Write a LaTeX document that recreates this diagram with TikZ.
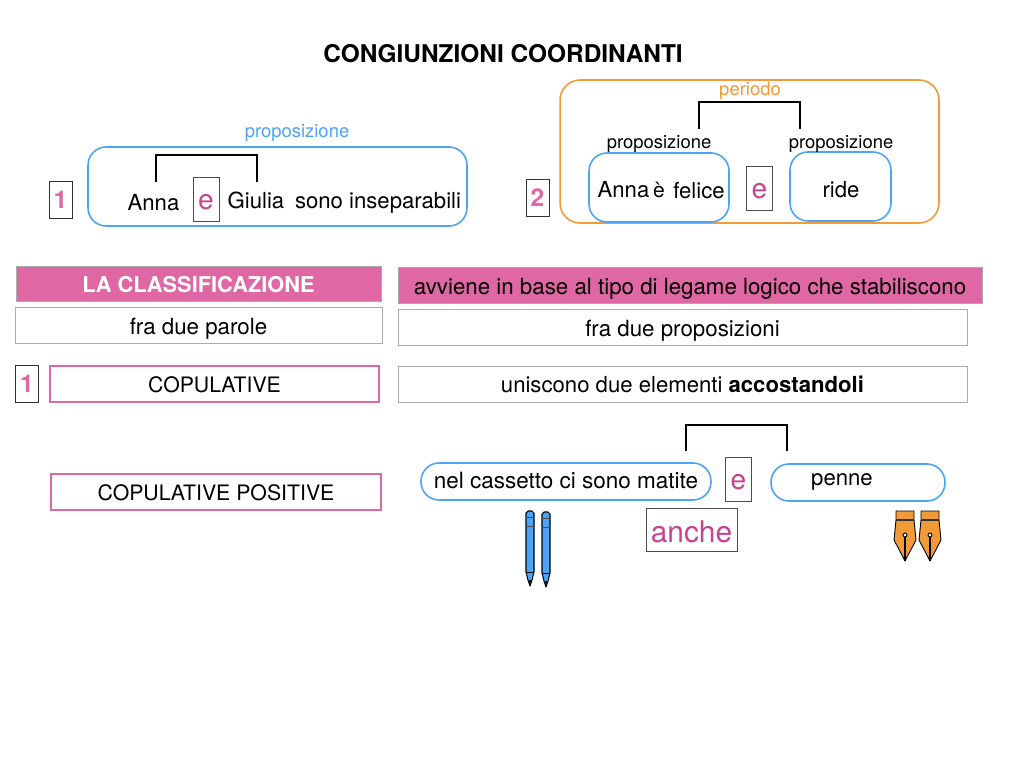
\documentclass[tikz,border=0pt]{standalone}
\usepackage{fontspec}
\setmainfont{TeX Gyre Heros}
\definecolor{bluprop}{HTML}{4DA3F5}
\definecolor{orperiodo}{HTML}{F19A38}
\definecolor{rosa}{HTML}{DF67A3}
\definecolor{magenta2}{HTML}{C8438F}
\definecolor{grigio}{HTML}{ABABAB}
\newcommand{\fs}[1]{\fontsize{#1}{#1}\selectfont}
\tikzset{
    txt/.style={inner sep=0pt,font=\fs{12.6}},
    fascia/.style={draw=grigio,inner sep=0pt,font=\fs{12.7},text height=11pt,text depth=0pt},
    rosabox/.style={draw=rosa,line width=0.9pt,inner sep=0pt,font=\fs{12.1},text height=10pt,text depth=0pt},
    numbox/.style={draw=black!80,line width=0.5pt,fill=white,inner sep=0pt,text=rosa,font=\fs{14}\bfseries,minimum width=0.46cm,minimum height=0.74cm},
    ebox/.style={draw=black!70,line width=0.45pt,fill=white,inner sep=0pt,text=magenta2,font=\fs{16},text height=12.4pt,text depth=0pt,minimum width=0.52cm,minimum height=0.88cm},
    bluebox/.style={draw=bluprop,line width=0.9pt,rounded corners=0.36cm,inner sep=0pt},
    bracket/.style={draw=black,line width=1.1pt},
}
\begin{document}
\begin{tikzpicture}[x=0.02cm,y=-0.02cm]
    \def\pencilA{ (526,513) -- (528,511) -- (532,511) -- (534,513) -- (534,572) -- (532,580) -- (530,586) -- (528,580) -- (526,572) -- cycle};
    \def\nibA{ (896,511) -- (914,511) -- (914,520) -- (916,540) -- (905,561) -- (894,540) -- (896,520) -- cycle};
    \useasboundingbox (0,0) rectangle (1024,768);
    \fill[white] (0,0) rectangle (1024,768);
    \node[txt,font=\fs{13.9}\bfseries] (titolo) at (503,54) {CONGIUNZIONI COORDINANTI};

    % prima frase
    \node[bluebox,minimum width=7.58cm,minimum height=1.58cm] (frase) at (277.5,186.5) {};
    \node[txt,text=bluprop,font=\fs{10.5}] (prop) at (297,133) {proposizione};
    \node[numbox] (num1) at (60.5,199.5) {1};
    \node[txt] (anna) at (153.5,203) {Anna};
    \node[ebox] (e1) at (206,199) {e};
    \node[txt] (giulia) at (256,200) {Giulia};
    \node[txt] (sono) at (378,202.5) {sono inseparabili};
    \coordinate (brA) at (156,182);
    \coordinate (brB) at (257,182);
    \draw[bracket] (brA) -- ++(0,-27) -| (brB);

    % seconda frase
    \node[draw=orperiodo,line width=0.9pt,rounded corners=0.4cm,inner sep=0pt,minimum width=7.58cm,minimum height=2.86cm] (periodo) at (749.5,151.5) {};
    \node[txt,text=orperiodo,font=\fs{10.5}] (perlab) at (750,91) {periodo};
    \node[numbox] (num2) at (537.5,197.5) {2};
    \node[bluebox,minimum width=2.8cm,minimum height=1.38cm] (prop1) at (659,187.5) {};
    \node[bluebox,minimum width=2.02cm,minimum height=1.38cm] (prop2) at (840.5,186.5) {};
    \node[txt,font=\fs{10.5}] (lab1) at (659,144) {proposizione};
    \node[txt,font=\fs{10.5}] (lab2) at (841,144) {proposizione};
    \node[txt] (anna2) at (623.5,190) {Anna};
    \node[txt,font=\fs{12}] (verbo) at (659,190) {è};
    \node[txt] (felice) at (699,191) {felice};
    \node[txt] (ride) at (841,190) {ride};
    \node[ebox] (e2) at (759.5,188) {e};
    \coordinate (brC) at (699,129);
    \coordinate (brD) at (800,129);
    \draw[bracket] (brC) -- ++(0,-27) -| (brD);

    % classificazione
    \node[fascia,fill=rosa,text=white,font=\fs{12.4}\bfseries,text height=10pt,minimum width=7.3cm,minimum height=0.7cm] (classif) at (198.5,283.5) {LA CLASSIFICAZIONE};
    \node[fascia,fill=rosa,minimum width=11.68cm,minimum height=0.72cm] (legame) at (690,285) {avviene in base al tipo di legame logico che stabiliscono};
    \node[fascia,minimum width=7.34cm,minimum height=0.72cm] (parole) at (198.5,325) {fra due parole};
    \node[fascia,minimum width=11.38cm,minimum height=0.72cm] (proposizioni) at (682.5,327) {fra due proposizioni};
    \node[numbox] (num3) at (27,384) {1};
    \node[rosabox,minimum width=6.58cm,minimum height=0.72cm] (copul) at (214.5,384) {COPULATIVE};
    \node[fascia,font=\fs{12.6},text height=10pt,minimum width=11.38cm,minimum height=0.72cm] (uniscono) at (682.5,384) {uniscono due elementi \textbf{accostandoli}};
    \node[rosabox,minimum width=6.6cm,minimum height=0.72cm] (positive) at (216,492) {COPULATIVE POSITIVE};

    % esempio
    \node[bluebox,minimum width=5.8cm,minimum height=0.74cm,font=\fs{12.8},text height=10pt,text depth=1.6pt] (matite) at (566,481.5) {nel cassetto ci sono matite};
    \node[ebox] (e3) at (738.5,479) {e};
    \node[bluebox,minimum width=3.48cm,minimum height=0.74cm] (penne) at (858,482.5) {};
    \node[txt] (pennetxt) at (842,482) {penne};
    \node[draw=black!70,line width=0.5pt,inner sep=0pt,text=magenta2,font=\fs{17},text height=14.8pt,text depth=0pt,minimum width=1.82cm,minimum height=0.86cm] (anche) at (691.5,529.5) {anche};
    \coordinate (brE) at (686,451);
    \coordinate (brF) at (787,451);
    \draw[bracket] (brE) -- ++(0,-26) -| (brF);

    % matite
    \foreach \sx/\sy in {0/0,16/1}{
        \begin{scope}[shift={(\sx,\sy)}]
            \filldraw[fill=bluprop,draw=black,line width=0.6pt,line join=round] \pencilA;
            \draw[black!70,line width=0.5pt] (526,517) -- (534,517) (526,526) -- (534,526);
            \draw[black,line width=0.5pt] (526,572) -- (534,572);
            \fill[black] (529,580) -- (531,580) -- (530,586) -- cycle;
        \end{scope}
    }
    % pennini
    \foreach \sx in {0,25}{
        \begin{scope}[shift={(\sx,0)}]
            \filldraw[fill=orperiodo,draw=black,line width=0.5pt,line join=round] \nibA;
            \draw[black!80,line width=1pt] (896,520) -- (914,520);
            \draw[black,line width=0.7pt] (905,535) -- (905,561);
            \filldraw[fill=white,draw=black,line width=0.5pt] (905,535) circle (2);
        \end{scope}
    }
\end{tikzpicture}
\end{document}
